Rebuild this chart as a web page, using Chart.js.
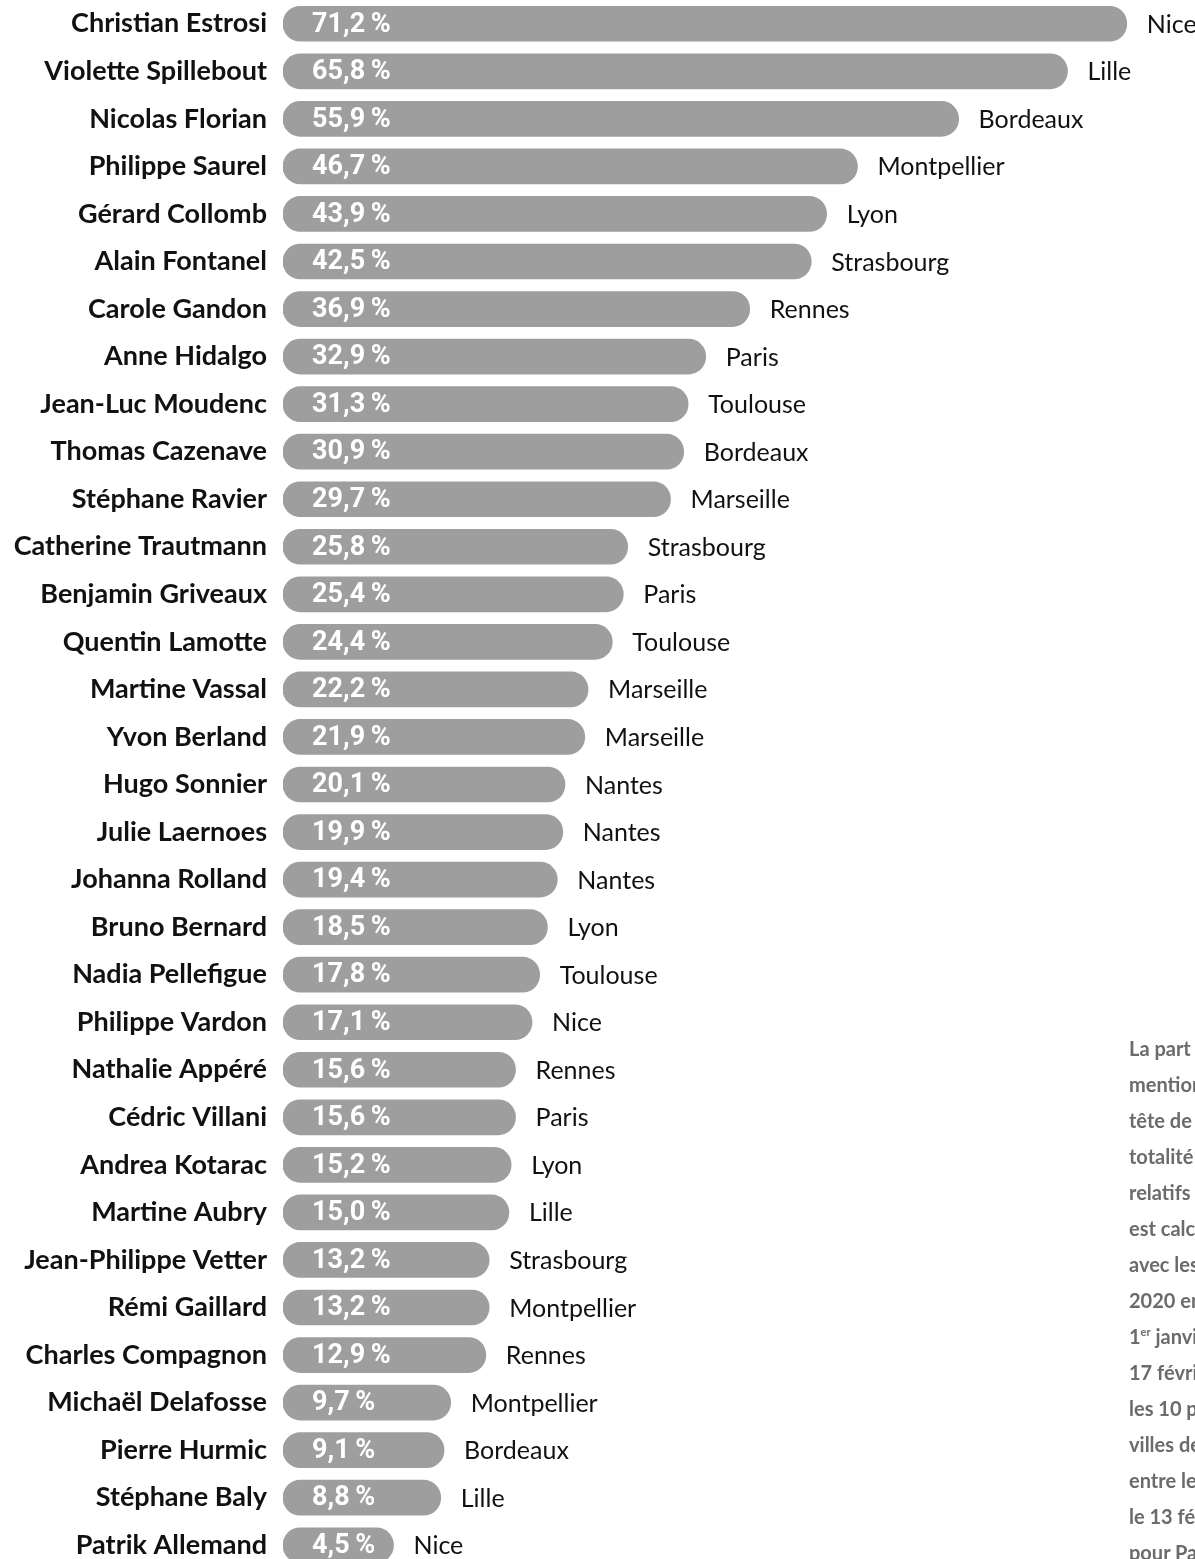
<!DOCTYPE html>
<html>
<head>
<meta charset="utf-8">
<script src="https://cdn.jsdelivr.net/npm/chart.js@4.4.1/dist/chart.umd.min.js"></script>
<style>
  html, body { margin: 0; padding: 0; background: #fff; overflow: hidden; }
  #wrap { position: relative; width: 1195px; height: 1559px; overflow: hidden; }
  #chart { position: absolute; left: 0; top: 0; }
  #note {
    position: absolute; left: 1129px; top: 1030px;
    font: bold 20px Lato, sans-serif; line-height: 36px; color: #6b6b6b;
    white-space: nowrap;
  }
  #note sup { font-size: 11px; line-height: 0; }
</style>
</head>
<body>
<div id="wrap">
  <canvas id="chart" width="1195" height="1569"></canvas>
  <div id="note">
    La part des<br>
    mentions de la<br>
    tête de liste sur la<br>
    totalité des articles<br>
    relatifs à sa ville<br>
    est calculée<br>
    avec les articles<br>
    2020 entre le<br>
    1<sup>er</sup> janvier et le<br>
    17 février pour<br>
    les 10 plus grandes<br>
    villes de France<br>
    entre le 1<sup>er</sup> janvier et<br>
    le 13 février<br>
    pour Paris.
  </div>
</div>
<script>
let candidats = ["Christian Estrosi", "Violette Spillebout", "Nicolas Florian", "Philippe Saurel",
    "Gérard Collomb", "Alain Fontanel", "Carole Gandon", "Anne Hidalgo", "Jean-Luc Moudenc",
    "Thomas Cazenave", "Stéphane Ravier", "Catherine Trautmann", "Benjamin Griveaux",
    "Quentin Lamotte", "Martine Vassal", "Yvon Berland", "Hugo Sonnier", "Julie Laernoes",
    "Johanna Rolland", "Bruno Bernard", "Nadia Pellefigue", "Philippe Vardon", "Nathalie Appéré",
    "Cédric Villani", "Andrea Kotarac", "Martine Aubry", "Jean-Philippe Vetter", "Rémi Gaillard",
    "Charles Compagnon", "Michaël Delafosse", "Pierre Hurmic", "Stéphane Baly", "Patrik Allemand"];

let parts = [71.2, 65.8, 55.9, 46.7, 43.9, 42.5, 36.9, 32.9, 31.3, 30.9, 29.7, 25.8, 25.4,
    24.4, 22.2, 21.9, 20.1, 19.9, 19.4, 18.5, 17.8, 17.1, 15.6, 15.6, 15.2, 15.0, 13.2, 13.2,
    12.9, 9.7, 9.1, 8.8, 4.5];

let villes = ["Nice", "Lille", "Bordeaux", "Montpellier", "Lyon", "Strasbourg", "Rennes", "Paris",
    "Toulouse", "Bordeaux", "Marseille", "Strasbourg", "Paris", "Toulouse", "Marseille", "Marseille",
    "Nantes", "Nantes", "Nantes", "Lyon", "Toulouse", "Nice", "Rennes", "Paris", "Lyon", "Lille",
    "Strasbourg", "Montpellier", "Rennes", "Montpellier", "Bordeaux", "Lille", "Nice"];

// bars start a bit left of zero so the % label fits inside
let xMin = -5.55;
let xMax = 77.4;

let labelsPlugin = {
    id: "barLabels",
    afterDatasetsDraw(chart) {
        let ctx = chart.ctx;
        let meta = chart.getDatasetMeta(0);
        ctx.save();
        ctx.textBaseline = "middle";
        meta.data.forEach((bar, i) => {
            ctx.fillStyle = "#ffffff";
            ctx.font = "bold 27px Roboto";
            ctx.textAlign = "left";
            ctx.fillText(parts[i].toFixed(1).replace(".", ",") + "\u2009%", bar.base + 29, bar.y + 1);
            ctx.fillStyle = "#111111";
            ctx.font = "25px Lato";
            ctx.fillText(villes[i], bar.x + 20, bar.y + 1);
        });
        ctx.restore();
    }
};

new Chart(document.getElementById("chart").getContext("2d"), {
    type: "bar",
    data: {
        labels: candidats,
        datasets: [{
            data: parts,
            base: xMin,
            backgroundColor: "#9e9e9e",
            borderRadius: 18,
            borderSkipped: false,
            barThickness: 35
        }]
    },
    options: {
        indexAxis: "y",
        responsive: false,
        animation: false,
        layout: { padding: 0 },
        plugins: {
            legend: { display: false },
            tooltip: { enabled: false }
        },
        scales: {
            x: { display: false, min: xMin, max: xMax },
            y: {
                grid: { display: false, drawTicks: false },
                border: { display: false },
                ticks: {
                    color: "#111111",
                    font: { family: "Lato", weight: "bold", size: 27 },
                    padding: 16
                },
                afterFit(scale) {
                    scale.width = 283;
                    scale.paddingTop = 0;
                    scale.paddingBottom = 0;
                }
            }
        }
    },
    plugins: [labelsPlugin]
});
</script>
</body>
</html>
